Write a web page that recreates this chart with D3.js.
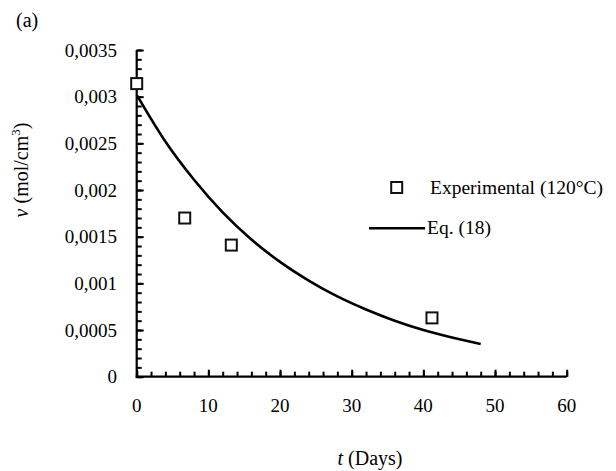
<!DOCTYPE html>
<html>
<head>
<meta charset="utf-8">
<script src="https://cdn.jsdelivr.net/npm/d3@7"></script>
</head>
<body style="margin:0; background:#fff">
<svg id="chart" width="616" height="471" font-family="Liberation Serif">
  <text x="16" y="27" font-family="Liberation Serif" font-size="20">(a)</text>
</svg>
<script>
// Experimental points (120°C)
const expDays = [0, 6.7, 13.2, 41.2];
const expNu = [0.00314, 0.00170, 0.00141, 0.00063];

// Eq. (18) curve
const fitDays = [0, 4, 8, 12, 16, 20, 24, 28, 32, 36, 40, 44, 48];
const fitNu = [0.00302, 0.00252, 0.00211, 0.00176, 0.00147, 0.00123, 0.00103,
               0.00086, 0.00072, 0.00060, 0.00050, 0.00042, 0.00035];

const xTicks = [0, 10, 20, 30, 40, 50, 60];
const yTicks = [0, 0.0005, 0.001, 0.0015, 0.002, 0.0025, 0.003, 0.0035];

const FONT = "Liberation Serif";
const svg = d3.select("#chart");

const x = d3.scaleLinear().domain([0, 60]).range([136.7, 566.7]);
const y = d3.scaleLinear().domain([0, 0.0035]).range([376.7, 50]);

const fmt = v => String(+v.toFixed(4)).replace(".", ",");

// tick marks point inward; minor every 2 days / 0.0001
function ticks(axis, size) {
    return g => g.call(axis.tickSize(size).tickFormat(""))
        .call(g => g.selectAll(".tick line").attr("stroke-width", 2))
        .call(g => g.select(".domain").remove());
}

svg.append("g")
    .attr("transform", `translate(0,${y(0)})`)
    .call(ticks(d3.axisTop(x).tickValues(d3.range(0, 61, 2)), 5));
svg.append("g")
    .attr("transform", `translate(0,${y(0)})`)
    .call(ticks(d3.axisTop(x).tickValues(xTicks), 7));
svg.append("g")
    .attr("transform", `translate(${x(0)},0)`)
    .call(ticks(d3.axisRight(y).tickValues(d3.range(0, 36).map(i => i * 0.0001)), 5));
svg.append("g")
    .attr("transform", `translate(${x(0)},0)`)
    .call(ticks(d3.axisRight(y).tickValues(yTicks), 7));

// axis lines
svg.append("line")
    .attr("x1", x(0)).attr("x2", x(0))
    .attr("y1", y(0.0035)).attr("y2", y(0) + 1)
    .attr("stroke", "#000").attr("stroke-width", 2.2);
svg.append("line")
    .attr("x1", x(0) - 1).attr("x2", x(60))
    .attr("y1", y(0)).attr("y2", y(0))
    .attr("stroke", "#000").attr("stroke-width", 2.2);

// tick labels
svg.append("g").selectAll("text")
    .data(xTicks)
    .join("text")
    .attr("x", d => x(d))
    .attr("y", 412)
    .attr("text-anchor", "middle")
    .attr("font-family", FONT)
    .attr("font-size", 19)
    .text(d => d);

svg.append("g").selectAll("text")
    .data(yTicks)
    .join("text")
    .attr("x", 117)
    .attr("y", d => y(d) + 6.5)
    .attr("text-anchor", "end")
    .attr("font-family", FONT)
    .attr("font-size", 19)
    .text(fmt);

// curve
svg.append("path")
    .datum(fitDays.map((d, i) => [d, fitNu[i]]))
    .attr("fill", "none")
    .attr("stroke", "#000")
    .attr("stroke-width", 2.6)
    .attr("d", d3.line().x(d => x(d[0])).y(d => y(d[1])).curve(d3.curveMonotoneX));

// experimental squares
svg.append("g").selectAll("rect")
    .data(expDays.map((d, i) => [d, expNu[i]]))
    .join("rect")
    .attr("x", d => x(d[0]) - 5.5)
    .attr("y", d => y(d[1]) - 5.5)
    .attr("width", 11)
    .attr("height", 11)
    .attr("fill", "#fff")
    .attr("stroke", "#111")
    .attr("stroke-width", 2);

// legend
svg.append("rect")
    .attr("x", 391.2).attr("y", 182)
    .attr("width", 11).attr("height", 11)
    .attr("fill", "#fff").attr("stroke", "#111").attr("stroke-width", 2);
svg.append("text")
    .attr("x", 430).attr("y", 193.5)
    .attr("font-family", FONT)
    .attr("font-size", 19.5)
    .text("Experimental (120°C)");
svg.append("line")
    .attr("x1", 369).attr("x2", 425)
    .attr("y1", 228.3).attr("y2", 228.3)
    .attr("stroke", "#000").attr("stroke-width", 2.6);
svg.append("text")
    .attr("x", 427).attr("y", 234)
    .attr("font-family", FONT)
    .attr("font-size", 19.5)
    .text("Eq. (18)");

// axis titles
svg.append("text")
    .attr("x", 370).attr("y", 465)
    .attr("text-anchor", "middle")
    .attr("font-family", FONT)
    .attr("font-size", 20)
    .html('<tspan font-style="italic">t</tspan> (Days)');

svg.append("text")
    .attr("transform", "translate(28,170) rotate(-90)")
    .attr("text-anchor", "middle")
    .attr("font-family", FONT)
    .attr("font-size", 20)
    .html('<tspan font-style="italic">ν</tspan> (mol/cm<tspan font-size="13" dy="-8">3</tspan><tspan dy="8">)</tspan>');
</script>
</body>
</html>
